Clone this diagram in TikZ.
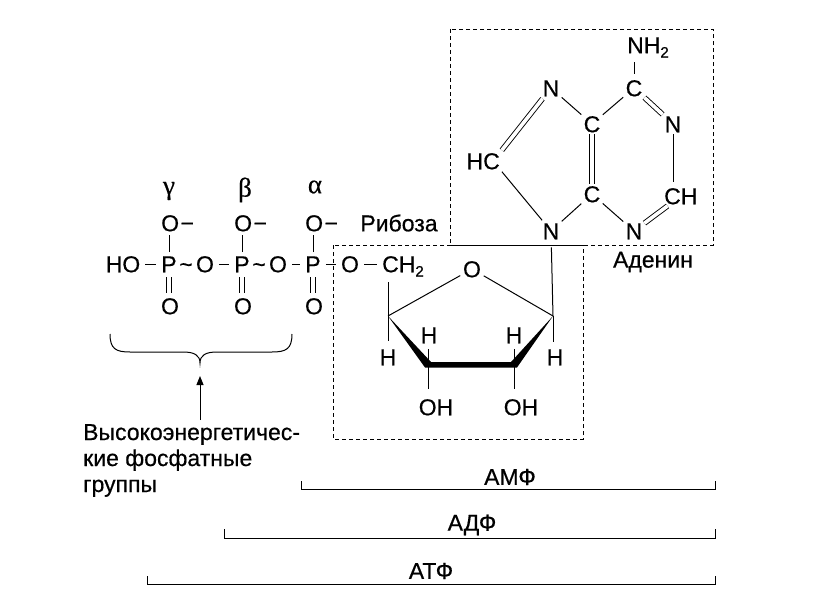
\documentclass[tikz,border=0pt]{standalone}
\usepackage{fontspec}
\setmainfont{Liberation Sans}[FakeBold=0.5]
\newfontfamily\grkfont{Liberation Serif}[FakeBold=0.5]
\usetikzlibrary{arrows.meta,calc}
\newcommand\sbs[1]{\raisebox{-0.35ex}{\fontsize{15}{15}\selectfont #1}}
\begin{document}
\begin{tikzpicture}[x=1pt,y=-1pt,
  every node/.style={inner sep=0pt, font=\fontsize{23}{26}\selectfont},
  atom/.style={text height=16.5pt, text depth=0pt},
  grk/.style={font=\grkfont\fontsize{27}{27}\selectfont},
  bond/.style={line width=1pt},
  dbl/.style={double, double distance=3.6pt, line width=0.9pt},
  sh/.style={shorten <=#1, shorten >=#1},
  boxline/.style={line width=0.9pt, dash pattern=on 4pt off 3pt},
  bracketline/.style={line width=1pt}]
\useasboundingbox (0,0) rectangle (831,602);

% ---------- phosphate chain ----------
\node[atom] (HO) at (123,264) {HO};
\node[atom] (P1) at (169,264) {P};
\node[atom] (t1) at (186,264) {\textasciitilde};
\node[atom] (O1) at (205,264) {O};
\node[atom] (P2) at (242,264) {P};
\node[atom] (t2) at (259,264) {\textasciitilde};
\node[atom] (O2) at (278,264) {O};
\node[atom] (P3) at (313,264) {P};
\node[atom] (O3) at (350,264) {O};
\node[atom, anchor=west] (CH2) at (382,264) {CH\sbs{2}};

\draw[bond, sh=5pt] (HO) -- (P1);
\draw[bond, sh=5pt] (O1) -- (P2);
\draw[bond, sh=5pt] (O2) -- (P3);
\draw[bond, sh=5pt] (P3) -- (O3);
\draw[bond, sh=5pt] (O3) -- (CH2);

\node[atom, anchor=west] (Ou1) at (161,223) {O\kern1.5pt−};
\node[atom, anchor=west] (Ou2) at (234,223) {O\kern1.5pt−};
\node[atom, anchor=west] (Ou3) at (305,223) {O\kern1.5pt−};
\node[atom] (Od1) at (170,306) {O};
\node[atom] (Od2) at (243,306) {O};
\node[atom] (Od3) at (314,306) {O};

\draw[bond, sh=3.5pt] (P1) -- (P1 |- Ou1.south);
\draw[bond, sh=3.5pt] (P2) -- (P2 |- Ou2.south);
\draw[bond, sh=3.5pt] (P3) -- (P3 |- Ou3.south);
\draw[dbl, sh=5pt] (P1) -- (P1 |- Od1.north);
\draw[dbl, sh=5pt] (P2) -- (P2 |- Od2.north);
\draw[dbl, sh=5pt] (P3) -- (P3 |- Od3.north);

\node[grk] (gam) at (169,191) {γ};
\node[grk] (bet) at (245,190) {β};
\node[grk] (alp) at (315,187) {α};

\node (rib) at (399,223) {Рибоза};

% ---------- ribose ----------
\coordinate (C4) at (388,316);
\coordinate (C3) at (428,364.5);
\coordinate (C2) at (514,364.5);
\coordinate (C1) at (553,316);
\node[atom] (Or) at (472,269) {O};
\node[atom] (H4) at (388,357) {H};
\node[atom] (H3) at (429,335) {H};
\node[atom] (H2) at (514,335) {H};
\node[atom] (H1) at (555,357) {H};
\node[atom] (OH3) at (436,407) {OH};
\node[atom] (OH2) at (521,407) {OH};

\draw[bond, shorten >=3pt] (C4) -- (Or);
\draw[bond, shorten >=3pt] (C1) -- (Or);
\draw[bond, shorten >=10pt] (C4) -- (C4 |- CH2.south);
\draw[bond, shorten >=8pt] (C4) -- (H4);
\draw[bond, shorten >=7pt] (C1) -- (C1 |- H1.north);
\draw[bond, shorten >=6pt] (C3) -- (C3 |- H3.south);
\draw[bond, shorten >=6pt] (C2) -- (C2 |- H2.south);
\draw[bond, shorten >=10pt] (C3) -- (C3 |- OH3.north);
\draw[bond, shorten >=10pt] (C2) -- (C2 |- OH2.north);
\fill (C4) -- (431,362) -- (511,362) -- (C1) -- (517,367.5) -- (425,367.5) -- cycle;

\draw[boxline] (333,245) rectangle (583,439);

% ---------- adenine ----------
\node[atom, anchor=west] (NH2) at (627,45) {NH\sbs{2}};
\node[atom] (C6) at (634,88) {C};
\node[atom] (N7) at (551,88) {N};
\node[atom] (C5) at (592,124) {C};
\node[atom] (N1) at (673,124) {N};
\node[atom, anchor=east] (HC) at (500,161) {HC};
\node[atom] (C4a) at (592,194) {C};
\node[atom, anchor=west] (CH) at (664,196) {CH};
\node[atom] (N9) at (551,231) {N};
\node[atom] (N3) at (634,231) {N};

\draw[bond, shorten <=6pt, shorten >=9pt] (C6) -- (C6 |- NH2.south);
\draw[dbl, sh=2.5pt] (C6) -- (N1);
\draw[bond, shorten <=2pt, shorten >=6pt] (N1) -- (N1 |- CH.north);
\draw[dbl, sh=2.5pt] (CH) -- (N3);
\draw[bond, sh=3pt] (N3) -- (C4a);
\draw[dbl, sh=2pt] (C5) -- (C4a);
\draw[bond, sh=3pt] (C5) -- (C6);
\draw[bond, sh=3pt] (C5) -- (N7);
\draw[dbl, sh=3pt] (N7) -- (HC.north east);
\draw[bond, sh=3pt] (HC.south east) -- (N9);
\draw[bond, sh=3pt] (N9) -- (C4a);
\draw[bond, shorten <=8pt] (N9) -- (C1);

\draw[boxline] (450,29) rectangle (713,245);
\node (aden) at (653,262) {Аденин};

% ---------- brace and label ----------
\coordinate (bl) at (110,334);
\coordinate (br) at (292,334);
\coordinate (btip) at (200,363);
\draw[line width=1pt] (bl) .. controls (110,349) and (116,352) .. (130,352)
  -- (183,352) .. controls (194,352) and (200,355) .. (btip)
  .. controls (200,355) and (206,352) .. (217,352)
  -- (272,352) .. controls (286,352) and (292,349) .. (br);
\node[anchor=north west, align=left] (hi) at (83,424)
  {Высокоэнергетичес-\\кие фосфатные\\группы};
\draw[line width=1pt, -{Triangle[length=9pt,width=7pt]}] (hi.north -| btip) ++(0,-4) -- ($(btip)+(0,13)$);

% ---------- AMP / ADP / ATP ----------
\draw[bracketline] (301,481) -- (301,489) -- (715,489) -- (715,481);
\node (amp) at (510,477) {АМФ};
\draw[bracketline] (224,529) -- (224,538) -- (715,538) -- (715,529);
\node (adp) at (472,525) {АДФ};
\draw[bracketline] (147,576) -- (147,584) -- (715,584) -- (715,576);
\node (atp) at (431,571) {АТФ};
\end{tikzpicture}
\end{document}
